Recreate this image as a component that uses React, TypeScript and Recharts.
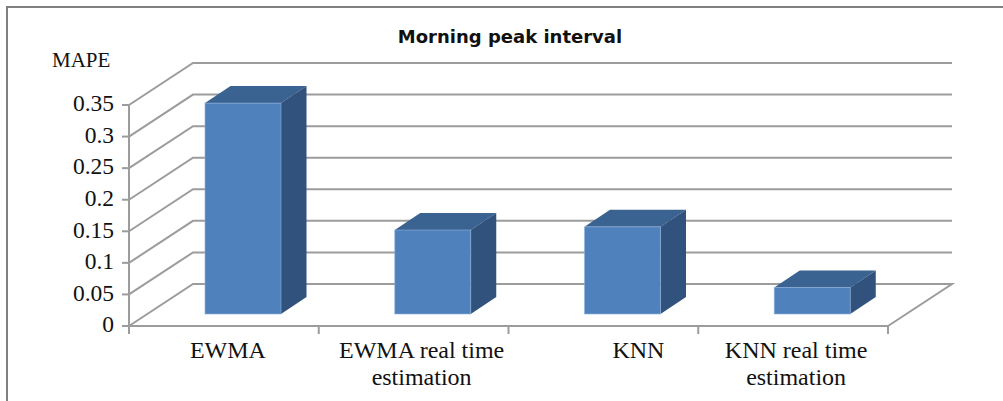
import { BarChart, Bar, XAxis, YAxis, CartesianGrid, Customized } from 'recharts';

const categories = ['EWMA', 'EWMA real time estimation', 'KNN', 'KNN real time estimation'];
const mape = [0.334, 0.133, 0.138, 0.042];
const yTicks = [0, 0.05, 0.1, 0.15, 0.2, 0.25, 0.3, 0.35];

const data = categories.map((name, i) => ({ name, mape: mape[i] }));

const serif = '"Liberation Serif", "Times New Roman", serif';
const gridColor = '#9c9c9c';

// the fake 3d: how far the back wall sits from the front plane
const wallX = 64;
const wallY = 42;
// bars stand part way back on the floor
const barShiftX = 19;
const barShiftY = 12;
const barDepthX = 25.5;
const barDepthY = 17;

// the original labels are not quite centred under their bands
const labelNudge = [4, 8, 35, 3];
const labelLines = [['EWMA'], ['EWMA real time', 'estimation'], ['KNN'], ['KNN real time', 'estimation']];

function WallLine(props: any) {
  const { x1, x2, y1 } = props;
  const backY = y1 - wallY;
  // the zero line also closes the floor on the right
  const isFloor = y1 > 320;
  return (
    <g>
      <polyline
        points={`${x1},${y1} ${x1 + wallX},${backY} ${x2 + wallX},${backY}${isFloor ? ` ${x2},${y1}` : ''}`}
        fill="none"
        stroke={gridColor}
        strokeWidth={2}
      />
    </g>
  );
}

function Bar3D(props: any) {
  const { x, y, width, height } = props;
  const left = x + barShiftX;
  const top = y - barShiftY;
  const right = left + width;
  const bottom = top + height;
  return (
    <g>
      <polygon
        points={`${left},${top} ${left + barDepthX},${top - barDepthY} ${right + barDepthX},${top - barDepthY} ${right},${top}`}
        fill="#3b6391"
      />
      <polygon
        points={`${right},${top} ${right + barDepthX},${top - barDepthY} ${right + barDepthX},${bottom - barDepthY} ${right},${bottom}`}
        fill="#30527c"
      />
      <rect x={left} y={top} width={width} height={height} fill="#4f81bd" stroke="#8eb0da" strokeOpacity={0.6} />
    </g>
  );
}

function CategoryTick(props: any) {
  const { x, y, index, width } = props;
  const band = width / categories.length;
  const tickX = x - band / 2;
  return (
    <g>
      <line x1={tickX} y1={y - 8} x2={tickX} y2={y} stroke={gridColor} strokeWidth={2} />
      {index === categories.length - 1 && (
        <line x1={tickX + band} y1={y - 8} x2={tickX + band} y2={y} stroke={gridColor} strokeWidth={2} />
      )}
      {labelLines[index].map((line, i) => (
        <text
          key={line}
          x={x + labelNudge[index]}
          y={y + 24 + i * 27}
          textAnchor="middle"
          fontFamily={serif}
          fontSize={24}
          fill="#111"
        >
          {line}
        </text>
      ))}
    </g>
  );
}

function Titles() {
  return (
    <g>
      <text
        x={510}
        y={43}
        textAnchor="middle"
        fontFamily='"DejaVu Sans", sans-serif'
        fontWeight={700}
        fontSize={18}
        fill="#111"
      >
        Morning peak interval
      </text>
      <text x={52} y={67} fontFamily={serif} fontSize={21} fill="#111">
        MAPE
      </text>
    </g>
  );
}

export default function App() {
  return (
    <div
      style={{
        position: 'absolute',
        left: 0,
        top: 0,
        width: 1003,
        height: 401,
        overflow: 'hidden',
        background: '#fff',
      }}
    >
      <div
        style={{
          position: 'absolute',
          left: 6,
          top: 6,
          right: 0,
          bottom: 0,
          borderTop: '2px solid #808080',
          borderLeft: '2px solid #808080',
        }}
      />
      <div style={{ position: 'absolute', left: 0, top: 0 }}>
        <BarChart
          width={1003}
          height={401}
          data={data}
          margin={{ top: 105, right: 115, bottom: 0, left: 0 }}
          barSize={76}
        >
          <CartesianGrid vertical={false} horizontal={(p: any) => <WallLine {...p} />} />
          <XAxis
            dataKey="name"
            interval={0}
            height={75}
            axisLine={{ stroke: gridColor, strokeWidth: 2 }}
            tickLine={false}
            tick={(p: any) => <CategoryTick {...p} />}
          />
          <YAxis
            width={129}
            domain={[0, 0.35]}
            ticks={yTicks}
            interval={0}
            axisLine={{ stroke: gridColor, strokeWidth: 2 }}
            tickLine={{ stroke: gridColor, strokeWidth: 2 }}
            tickSize={7}
            tickMargin={8}
            tick={{ fontFamily: serif, fontSize: 23.5, fill: '#111', dy: -2 }}
          />
          <Bar dataKey="mape" isAnimationActive={false} shape={(p: any) => <Bar3D {...p} />} />
          <Customized component={Titles} />
        </BarChart>
      </div>
    </div>
  );
}
